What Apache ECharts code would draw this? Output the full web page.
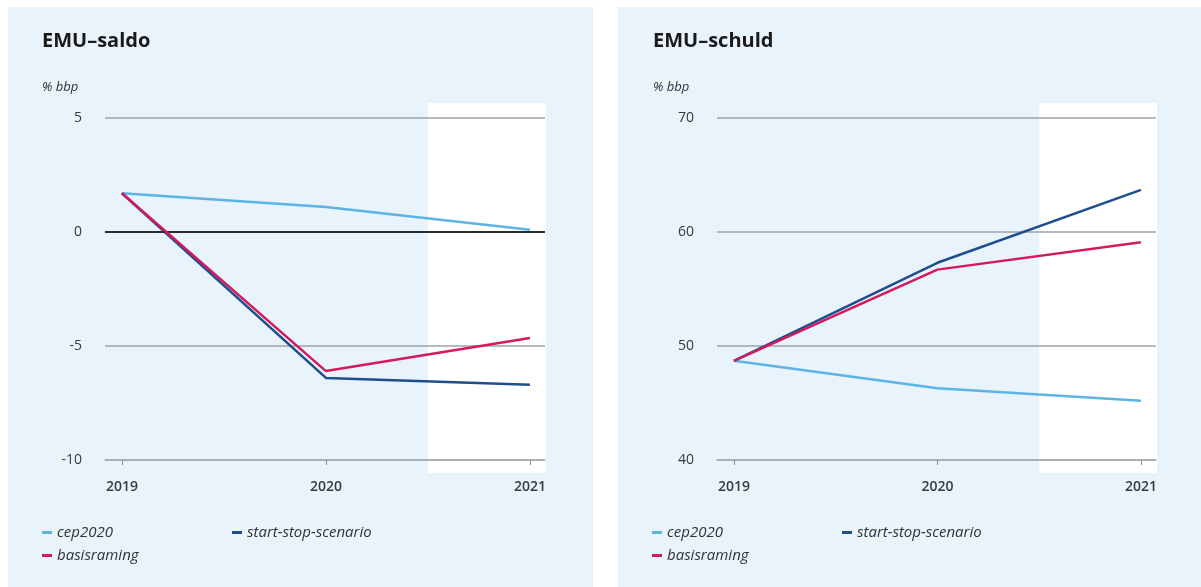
<!DOCTYPE html>
<html>
<head>
<meta charset="utf-8">
<script src="https://cdn.jsdelivr.net/npm/echarts@6/dist/echarts.min.js"></script>
<style>html,body{margin:0;padding:0;background:#fff}#c{width:1201px;height:587px}</style>
</head>
<body>
<div id="c"></div>
<script>
const years = [2019, 2020, 2021];
const seriesNames = ['cep2020', 'start-stop-scenario', 'basisraming'];
const saldoCep = [1.7, 1.1, 0.1];
const saldoStartStop = [1.7, -6.4, -6.7];
const saldoBasis = [1.7, -6.1, -4.65];
const schuldCep = [48.7, 46.3, 45.2];
const schuldStartStop = [48.7, 57.3, 63.7];
const schuldBasis = [48.7, 56.7, 59.1];
const saldoTicks = [-10, -5, 0, 5];
const schuldTicks = [40, 50, 60, 70];
const forecastStart = 2020.5;

const colors = ['#5db3e4', '#1d4f8f', '#d5195d'];
const font = 'Open Sans';
const pairs = arr => years.map((y, i) => [y, arr[i]]);

const chart = echarts.init(document.getElementById('c'), null, {renderer: 'canvas'});

function xAxis(gi) {
  return {
    type: 'value', gridIndex: gi, min: 2018.917, max: 2021.074,
    axisLine: {show: true, onZero: false, lineStyle: {color: '#a9adb3', width: 1.5}},
    axisTick: {show: true, customValues: years, length: 5, lineStyle: {color: '#8a8f96', width: 1}},
    axisLabel: {customValues: years, formatter: v => String(Math.round(v)), color: '#3a3a3a', fontSize: 14, fontFamily: font, fontWeight: 600, margin: 20},
    splitLine: {show: false}
  };
}
function yAxis(gi, min, max, interval) {
  return {
    type: 'value', gridIndex: gi, min: min, max: max, interval: interval,
    axisLine: {show: false}, axisTick: {show: false},
    axisLabel: {color: '#3a3a3a', fontSize: 14, fontFamily: font, margin: 23},
    splitLine: {show: true, lineStyle: {color: '#9ea2a8', width: 1.5}}
  };
}
function lineSeries(name, data, gi, idx) {
  return {
    name: name, type: 'line', xAxisIndex: gi, yAxisIndex: gi, data: pairs(data),
    showSymbol: false, symbol: 'none', lineStyle: {color: colors[idx], width: 2.5},
    itemStyle: {color: colors[idx]}, z: 3 + idx, animation: false
  };
}
function legend(name, left, top) {
  return {
    data: [name], left: left, top: top, icon: 'rect', itemWidth: 10, itemHeight: 3, itemGap: 0,
    textStyle: {fontFamily: font, fontStyle: 'italic', fontSize: 15, color: '#333'}, selectedMode: false
  };
}

const option = {
  animation: false,
  backgroundColor: '#ffffff',
  title: [
    {text: 'EMU–saldo', left: 37, top: 26, textStyle: {fontFamily: font, fontWeight: 'bold', fontSize: 20, color: '#1a1a1a'}},
    {text: '% bbp', left: 37, top: 76, textStyle: {fontFamily: font, fontStyle: 'italic', fontWeight: 'normal', fontSize: 13, color: '#333'}},
    {text: 'EMU–schuld', left: 648, top: 26, textStyle: {fontFamily: font, fontWeight: 'bold', fontSize: 20, color: '#1a1a1a'}},
    {text: '% bbp', left: 648, top: 76, textStyle: {fontFamily: font, fontStyle: 'italic', fontWeight: 'normal', fontSize: 13, color: '#333'}}
  ],
  grid: [
    {left: 105, width: 440, top: 118, height: 342},
    {left: 717, width: 439, top: 118, height: 342}
  ],
  xAxis: [xAxis(0), xAxis(1)],
  yAxis: [yAxis(0, saldoTicks[0], saldoTicks[3], 5), yAxis(1, schuldTicks[0], schuldTicks[3], 10)],
  legend: [
    legend(seriesNames[0], 37, 520), legend(seriesNames[1], 227, 520), legend(seriesNames[2], 37, 543),
    legend(seriesNames[0], 647, 520), legend(seriesNames[1], 837, 520), legend(seriesNames[2], 647, 543)
  ],
  series: [
    Object.assign(lineSeries(seriesNames[0], saldoCep, 0, 0), {
      markLine: {silent: true, symbol: 'none', label: {show: false}, lineStyle: {color: '#2b2b2b', width: 2.2, type: 'solid'}, data: [{yAxis: 0}]}
    }),
    lineSeries(seriesNames[1], saldoStartStop, 0, 1),
    lineSeries(seriesNames[2], saldoBasis, 0, 2),
    lineSeries(seriesNames[0], schuldCep, 1, 0),
    lineSeries(seriesNames[1], schuldStartStop, 1, 1),
    lineSeries(seriesNames[2], schuldBasis, 1, 2)
  ]
};
chart.setOption(option);

function band(gi, topVal, botVal) {
  const a = chart.convertToPixel({gridIndex: gi}, [forecastStart, topVal]);
  const b = chart.convertToPixel({gridIndex: gi}, [2021.074, botVal]);
  return {type: 'rect', z: -5, shape: {x: a[0], y: a[1] - 15, width: b[0] - a[0] + 1, height: b[1] - a[1] + 28}, style: {fill: '#ffffff'}};
}
chart.setOption({
  graphic: [
    {type: 'rect', z: -10, shape: {x: 8, y: 7, width: 585, height: 580}, style: {fill: '#e8f3fc'}},
    {type: 'rect', z: -10, shape: {x: 618, y: 7, width: 583, height: 580}, style: {fill: '#e8f3fc'}},
    band(0, saldoTicks[3], saldoTicks[0]),
    band(1, schuldTicks[3], schuldTicks[0])
  ]
});
</script>
</body>
</html>
